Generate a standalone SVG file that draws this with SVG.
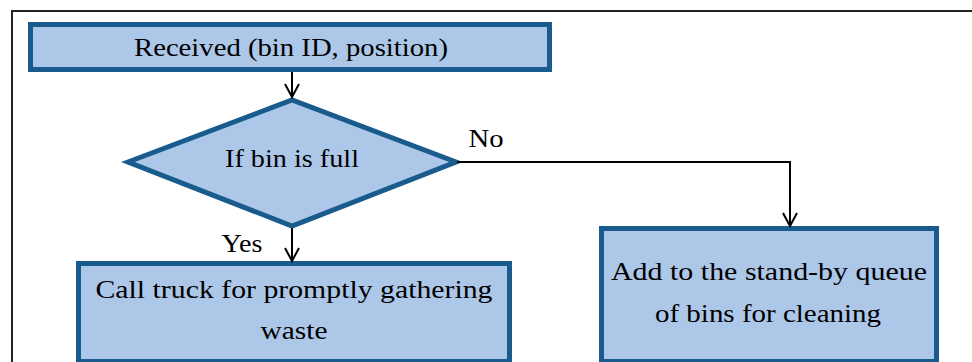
<svg xmlns="http://www.w3.org/2000/svg" width="972" height="362" viewBox="0 0 972 362">
<style>
.node{fill:#adc7e8;stroke:#185b8c;stroke-width:5;stroke-linejoin:miter}
.t{font-family:"Liberation Serif","Times New Roman",serif;font-size:26px;fill:#000;text-anchor:middle}
.c{fill:none;stroke:#000;stroke-width:2}
</style>
<defs>
<marker id="arr" markerWidth="16" markerHeight="16" refX="14" refY="8" orient="auto" markerUnits="userSpaceOnUse">
<path d="M1,1 L14,8 L1,15" fill="none" stroke="#000" stroke-width="2"/>
</marker>
</defs>
<rect width="972" height="362" fill="#fff"/>
<path d="M12,362 V11 H972" fill="none" stroke="#222" stroke-width="2"/>
<g id="n1">
<rect class="node" x="30.5" y="24.5" width="519" height="45"/>
<text class="t" x="291" y="56" textLength="314" lengthAdjust="spacingAndGlyphs">Received (bin ID, position)</text>
</g>
<g id="n2">
<polygon class="node" points="128,162 292,100 456,162 292,226"/>
<text class="t" x="292" y="167" textLength="134" lengthAdjust="spacingAndGlyphs">If bin is full</text>
</g>
<g id="n3">
<rect class="node" x="78.5" y="263.5" width="431" height="98"/>
<text class="t" x="294" y="298" textLength="397" lengthAdjust="spacingAndGlyphs">Call truck for promptly gathering</text>
<text class="t" x="294" y="339" textLength="67" lengthAdjust="spacingAndGlyphs">waste</text>
</g>
<g id="n4">
<rect class="node" x="601.5" y="228.5" width="335" height="133"/>
<text class="t" x="769" y="280" textLength="316" lengthAdjust="spacingAndGlyphs">Add to the stand-by queue</text>
<text class="t" x="768" y="322" textLength="226" lengthAdjust="spacingAndGlyphs">of bins for cleaning</text>
</g>
<g id="connectors">
<path class="c" d="M292,72 V97" marker-end="url(#arr)"/>
<path class="c" d="M292,228 V261" marker-end="url(#arr)"/>
<path class="c" d="M457,162 H790 V226" marker-end="url(#arr)"/>
<text class="t" x="486" y="147" textLength="35" lengthAdjust="spacingAndGlyphs">No</text>
<text class="t" x="242" y="252" textLength="41" lengthAdjust="spacingAndGlyphs">Yes</text>
</g>
</svg>
